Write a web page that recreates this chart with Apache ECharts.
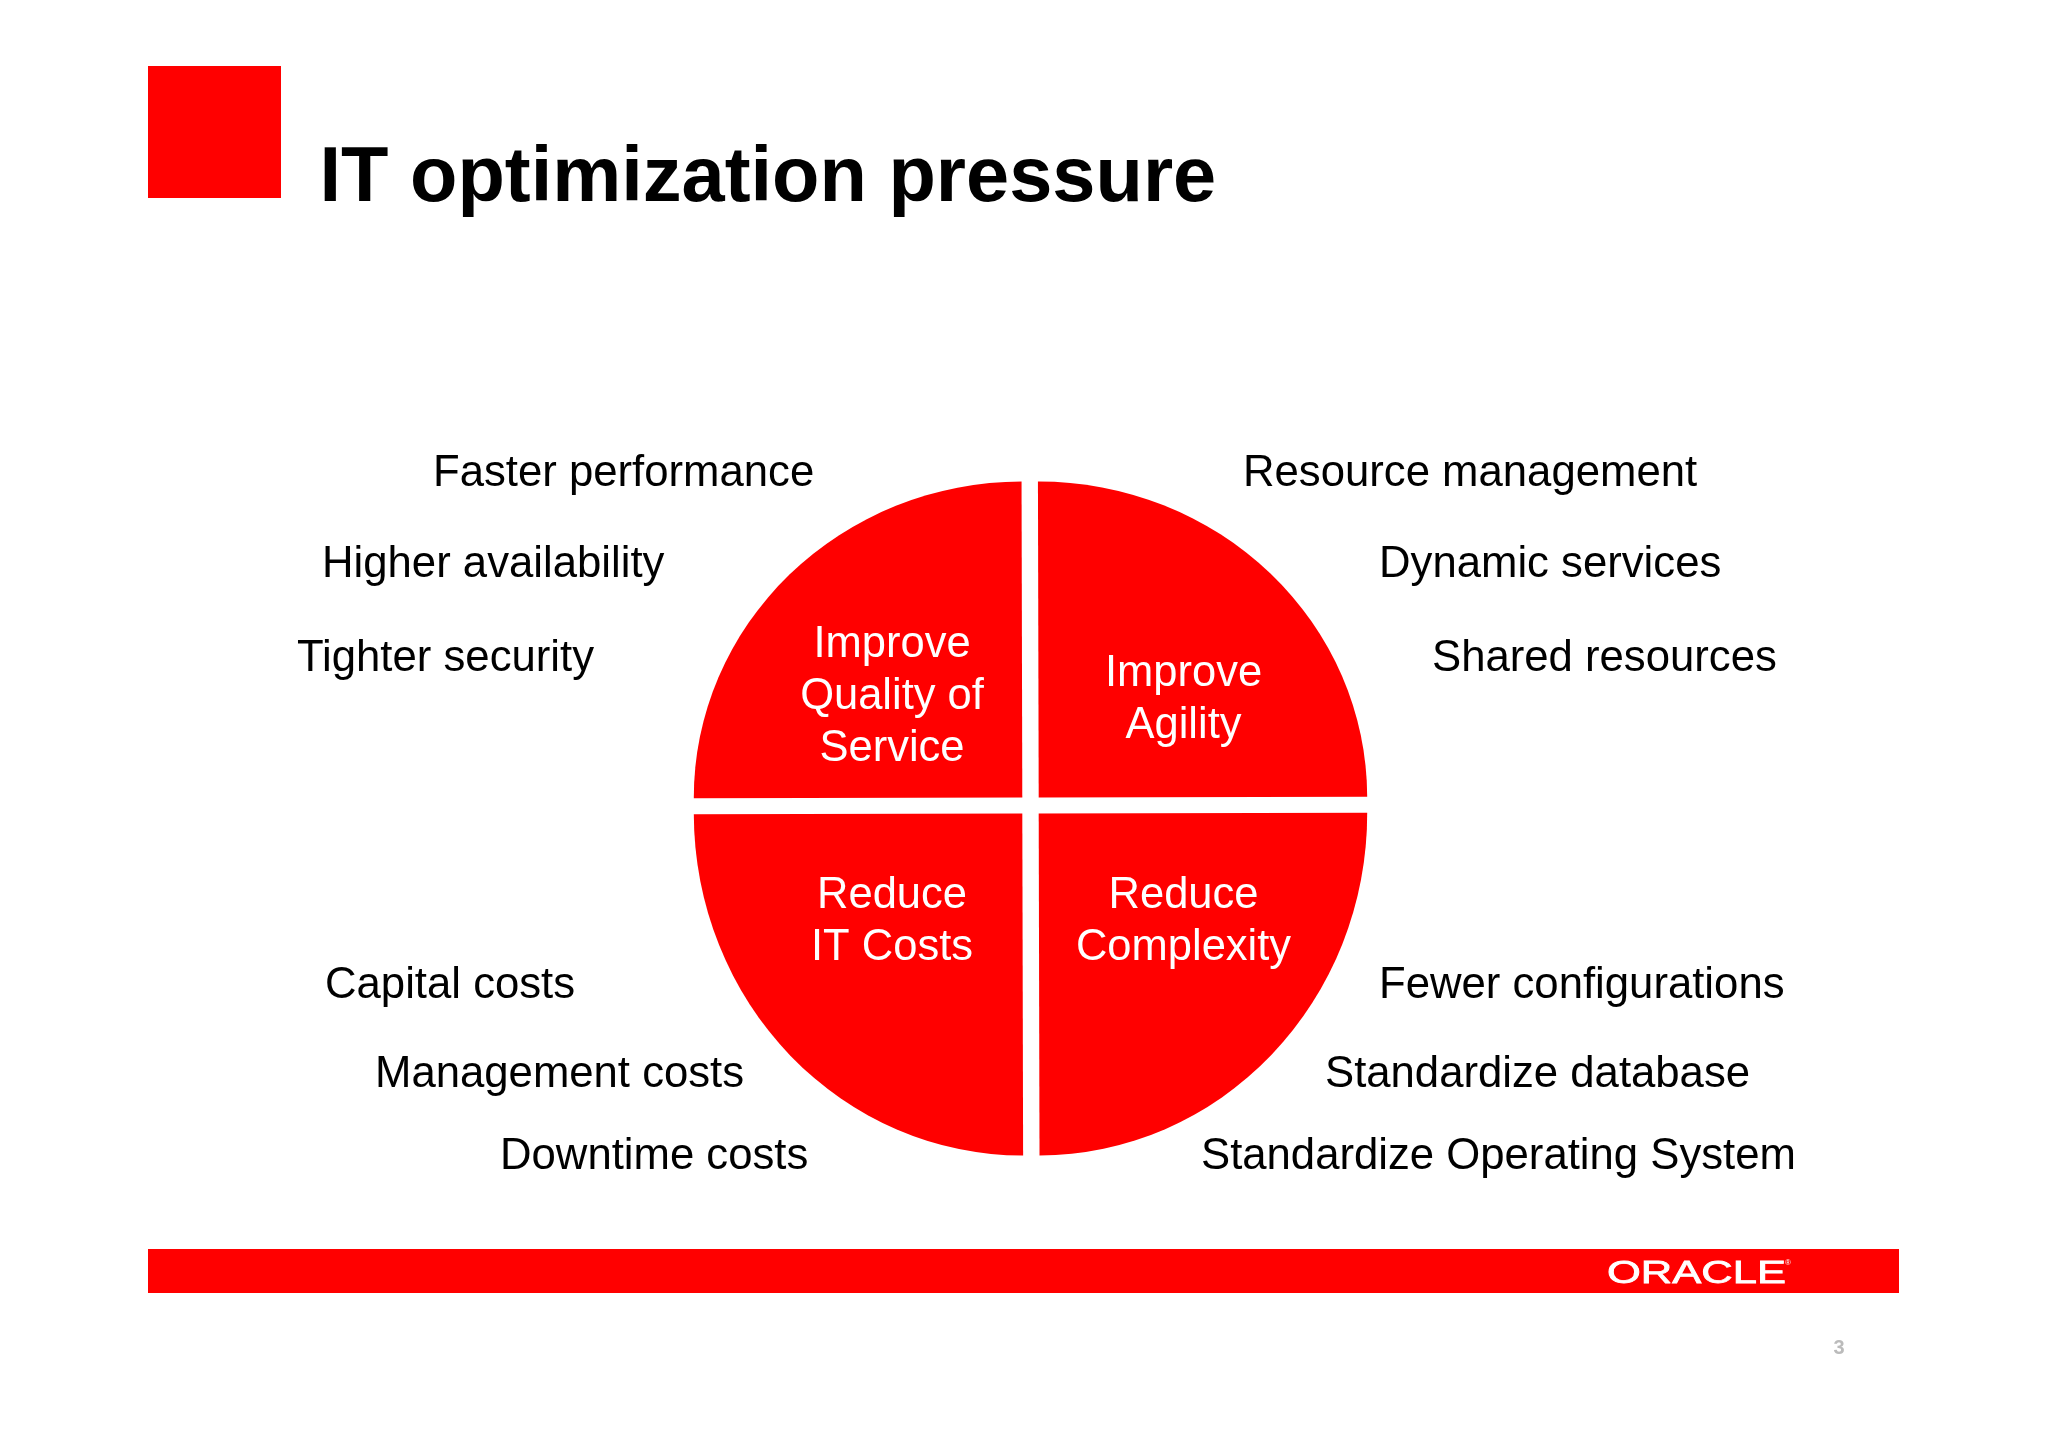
<!DOCTYPE html>
<html>
<head>
<meta charset="UTF-8">
<title>IT optimization pressure</title>
<style>
    html, body { margin: 0; width: 100%; height: 100%; background: #fff; }
    #chart { width: 2048px; height: 1447px; }
</style>
<script src="https://cdn.jsdelivr.net/npm/echarts@6/dist/echarts.min.js"></script>
</head>
<body>
<div id="chart"></div>
<script>
// clockwise from 12 o'clock
const quarterNames = ['Improve\nAgility', 'Reduce\nComplexity', 'Reduce\nIT Costs', 'Improve\nQuality of\nService'];
const quarterValues = [25, 25, 25, 25];

const leftLabels = ['Faster performance', 'Higher availability', 'Tighter security', 'Capital costs', 'Management costs', 'Downtime costs'];
const rightLabels = ['Resource management', 'Dynamic services', 'Shared resources', 'Fewer configurations', 'Standardize database', 'Standardize Operating System'];
const titleText = 'IT optimization pressure';
const logoText = 'ORACLE';
const pageNumber = '3';

const RED = '#ff0000';
const FONT = '"Liberation Sans", Arial, sans-serif';

// layout, in page pixels
const leftX = [433, 322, 297, 325, 375, 500];
const rightX = [1243, 1379, 1432, 1379, 1325, 1201];
const rowY = [474, 565, 659, 986, 1075, 1157];
const pie = { cx: 1030.5, cy: 805.5, rx: 328.5, ryTop: 316, ryBottom: 342, gapX: 8.2, gapY: 8 };
const quarterLabelPos = [[1183.5, 700], [1183.5, 922], [892, 922], [892, 697]];

const total = quarterValues.reduce((a, b) => a + b, 0);

function renderQuarter(params, api) {
    const i = params.dataIndex;
    let before = 0;
    for (let k = 0; k < i; k++) before += quarterValues[k];
    const start = -Math.PI / 2 + before / total * Math.PI * 2;
    const end = start + api.value(0) / total * Math.PI * 2;
    const mid = (start + end) / 2;
    const ry = Math.sin(mid) < 0 ? pie.ryTop : pie.ryBottom;
    return {
        type: 'group',
        children: [
            {
                type: 'sector',
                x: pie.cx + Math.sign(Math.cos(mid)) * pie.gapX,
                y: pie.cy + Math.sign(Math.sin(mid)) * pie.gapY,
                rotation: 0.0024,
                scaleY: ry / pie.rx,
                shape: { cx: 0, cy: 0, r0: 0, r: pie.rx, startAngle: start, endAngle: end, clockwise: true },
                style: { fill: RED }
            },
            {
                type: 'text',
                x: quarterLabelPos[i][0],
                y: quarterLabelPos[i][1],
                style: {
                    text: quarterNames[i],
                    fill: '#fff',
                    font: '43.5px ' + FONT,
                    lineHeight: 52,
                    align: 'center',
                    verticalAlign: 'middle'
                }
            }
        ]
    };
}

function sideLabel(text, x, y) {
    return {
        type: 'text',
        x: x,
        y: y,
        style: { text: text, fill: '#000', font: '43.7px ' + FONT, verticalAlign: 'middle' }
    };
}

const graphics = [
    { type: 'rect', shape: { x: 148, y: 66, width: 133, height: 132 }, style: { fill: RED } },
    { type: 'rect', shape: { x: 148, y: 1249, width: 1751, height: 44 }, style: { fill: RED } },
    {
        type: 'text', x: 319.5, y: 140.5,
        style: { text: titleText, fill: '#000', font: 'bold 77.6px ' + FONT, verticalAlign: 'top' }
    },
    {
        type: 'text', x: 1607, y: 1274, scaleX: 1.36,
        style: { text: logoText, fill: '#fff', stroke: '#fff', lineWidth: 0.8, font: '32px ' + FONT, verticalAlign: 'middle' }
    },
    {
        type: 'text', x: 1785, y: 1263,
        style: { text: '®', fill: '#fff', font: '8px ' + FONT, verticalAlign: 'middle' }
    },
    {
        type: 'text', x: 1839, y: 1348,
        style: { text: pageNumber, fill: '#bbbbbb', font: 'bold 20px ' + FONT, align: 'center', verticalAlign: 'middle' }
    }
];
leftLabels.forEach((t, i) => graphics.push(sideLabel(t, leftX[i], rowY[i])));
rightLabels.forEach((t, i) => graphics.push(sideLabel(t, rightX[i], rowY[i])));

const chart = echarts.init(document.querySelector('#chart'));
chart.setOption({
    animation: false,
    backgroundColor: '#fff',
    graphic: graphics,
    series: [
        {
            type: 'custom',
            coordinateSystem: 'none',
            renderItem: renderQuarter,
            data: quarterValues.map((v, i) => ({ name: quarterNames[i], value: [v] }))
        }
    ]
});
</script>
</body>
</html>
